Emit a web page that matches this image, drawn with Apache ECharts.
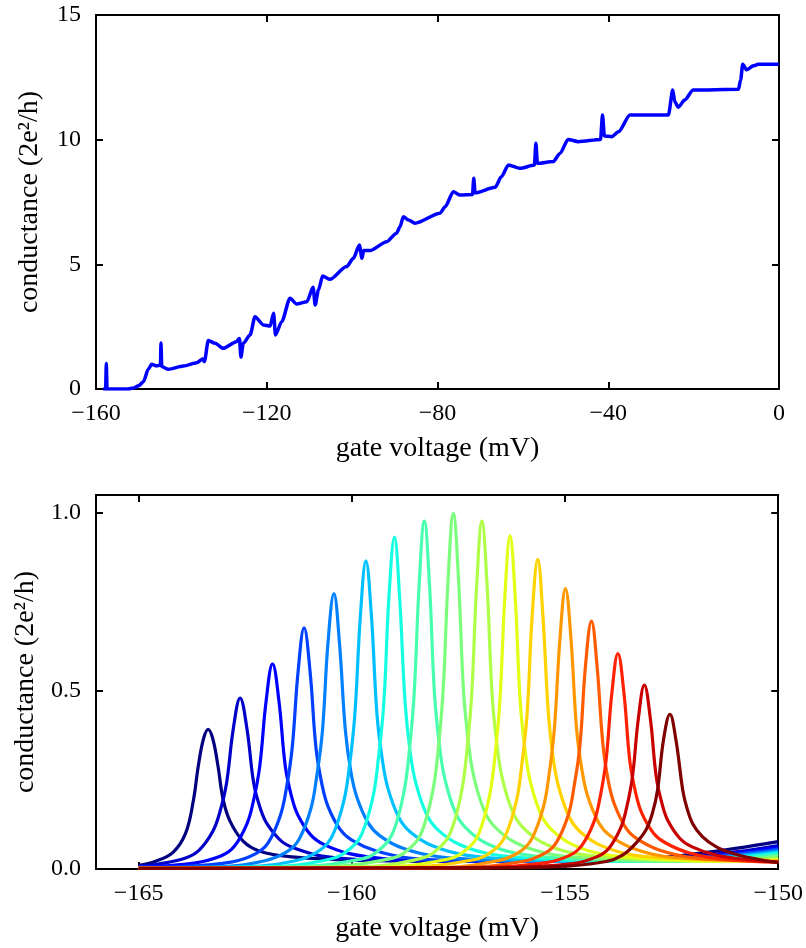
<!DOCTYPE html>
<html>
<head>
<meta charset="utf-8">
<script src="https://cdn.jsdelivr.net/npm/echarts@6/dist/echarts.min.js"></script>
<style>
html,body{margin:0;padding:0;background:#fff;}
#chart{width:806px;height:948px;}
</style>
</head>
<body>
<div id="chart"></div>
<script>
// ---------- data: top panel ----------
const topXTicks = [-160, -120, -80, -40, 0];
const topYTicks = [0, 5, 10, 15];
const topCurve = [
[-158.3,0],[-157.75,0],[-157.58,1.02],[-157.42,0],[-152.5,0],[-151.2,0.04],[-150.0,0.13],[-148.9,0.29],
[-147.75,0.79],[-146.96,0.99],[-145.8,0.93],[-144.9,0.96],[-144.78,1.84],[-144.6,0.9],[-143.06,0.79],
[-139.5,0.92],[-136.4,1.05],[-135.0,1.2],[-134.6,1.1],[-133.7,1.95],[-132.1,1.83],[-130.2,1.63],
[-127.1,1.9],[-126.4,2.03],[-126.05,1.28],[-125.5,1.83],[-123.9,2.17],[-122.75,2.9],[-120.8,2.57],
[-119.2,2.53],[-118.4,3.04],[-117.95,2.17],[-116.5,2.7],[-114.55,3.64],[-113.0,3.41],[-110.6,3.5],
[-109.15,4.08],[-108.65,3.37],[-107.9,3.97],[-106.9,4.53],[-105.2,4.40],[-101.3,4.91],[-99.7,5.24],
[-98.3,5.78],[-97.7,5.24],[-97.3,5.55],[-95.8,5.55],[-91.9,5.91],[-89.6,6.25],[-88.8,6.5],[-88.0,6.91],
[-86.8,6.78],[-85.3,6.65],[-79.4,7.05],[-78.2,7.31],[-76.3,7.91],[-74.7,7.78],[-71.8,7.8],[-71.5,8.45],
[-71.2,7.87],[-66.5,8.09],[-65.0,8.52],[-63.4,8.98],[-60.7,8.85],[-57.3,8.98],[-56.95,9.86],[-56.6,9.05],
[-52.9,9.12],[-51.3,9.45],[-49.4,10.01],[-47.0,9.92],[-41.8,10.01],[-41.35,10.99],[-40.9,10.15],
[-39.2,10.12],[-37.6,10.32],[-34.9,10.99],[-25.9,10.99],[-24.9,11.99],[-24.4,11.52],[-23.6,11.30],
[-22.1,11.59],[-20.1,11.99],[-9.5,12.02],[-9.0,12.39],[-8.5,13.02],[-7.6,12.80],[-6.0,12.96],
[-4.9,13.02],[0,13.02]
];

// ---------- data: bottom panel ----------
const botXTicks = [-165, -160, -155, -150];
const botYTicks = [0, 0.5, 1.0];
const peak01 = [[-165,0.010],[-164.6,0.022],[-164.2,0.046],[-163.9,0.1],[-163.72,0.19],[-163.6,0.29],[-163.48,0.365],[-163.37,0.392],[-163.26,0.365],[-163.14,0.29],[-163.02,0.196],[-162.86,0.135],[-162.55,0.078],[-162.16,0.05],[-161.4,0.034],[-160,0.025],[-158,0.022],[-156,0.023],[-154,0.026],[-153,0.030],[-152,0.042],[-151,0.058],[-150,0.077]];
const peak02 = [[-165,0.008],[-164.54,0.014],[-163.9,0.031],[-163.58,0.053],[-163.26,0.106],[-163.1,0.158],[-162.94,0.24],[-162.78,0.394],[-162.62,0.48],[-162.46,0.394],[-162.3,0.24],[-162.14,0.168],[-161.98,0.125],[-161.66,0.079],[-161.34,0.058],[-160.7,0.036],[-159.74,0.026],[-158,0.022],[-156,0.022],[-154,0.025],[-153,0.028],[-152,0.036],[-151,0.048],[-150,0.066]];
const peak03 = [[-165,0.006],[-164.5,0.008],[-163.66,0.017],[-163.06,0.037],[-162.76,0.063],[-162.46,0.127],[-162.31,0.19],[-162.16,0.288],[-162.01,0.472],[-161.86,0.576],[-161.71,0.472],[-161.56,0.288],[-161.41,0.202],[-161.26,0.15],[-160.96,0.095],[-160.66,0.069],[-160.06,0.043],[-159.16,0.028],[-158,0.023],[-156,0.021],[-154,0.023],[-153,0.026],[-152,0.033],[-151,0.044],[-150,0.06]];
const peak04 = [[-165,0.005],[-164,0.007],[-162.8,0.02],[-162.24,0.044],[-161.96,0.074],[-161.68,0.149],[-161.54,0.223],[-161.4,0.339],[-161.26,0.555],[-161.12,0.677],[-160.98,0.555],[-160.84,0.339],[-160.7,0.237],[-160.56,0.176],[-160.28,0.112],[-160.0,0.081],[-159.44,0.051],[-158.6,0.03],[-157,0.023],[-155,0.021],[-154,0.022],[-153,0.025],[-152,0.031],[-151,0.041],[-150,0.056]];
const peak05 = [[-165,0.004],[-163,0.007],[-162.04,0.023],[-161.5,0.05],[-161.23,0.085],[-160.96,0.17],[-160.83,0.255],[-160.69,0.387],[-160.56,0.634],[-160.42,0.773],[-160.29,0.634],[-160.15,0.387],[-160.02,0.271],[-159.88,0.201],[-159.61,0.128],[-159.34,0.093],[-158.8,0.058],[-157.99,0.035],[-156.5,0.024],[-155,0.021],[-154,0.021],[-153,0.023],[-152,0.029],[-151,0.038],[-150,0.052]];
const peak06 = [[-165,0.004],[-162.5,0.007],[-161.23,0.026],[-160.71,0.056],[-160.45,0.095],[-160.19,0.19],[-160.06,0.285],[-159.93,0.433],[-159.8,0.709],[-159.67,0.865],[-159.54,0.709],[-159.41,0.433],[-159.28,0.303],[-159.15,0.225],[-158.89,0.143],[-158.63,0.104],[-158.11,0.065],[-157.33,0.039],[-156,0.026],[-154.5,0.021],[-153,0.022],[-152,0.027],[-151,0.035],[-150,0.048]];
const peak07 = [[-165,0.003],[-162,0.006],[-160.5,0.028],[-160.0,0.061],[-159.75,0.103],[-159.5,0.205],[-159.38,0.308],[-159.25,0.466],[-159.13,0.764],[-159,0.932],[-158.88,0.764],[-158.75,0.466],[-158.63,0.326],[-158.5,0.242],[-158.25,0.154],[-158.0,0.112],[-157.5,0.07],[-156.75,0.042],[-155.5,0.028],[-154,0.022],[-153,0.022],[-152,0.025],[-151,0.032],[-150,0.044]];
const peak08 = [[-165,0.003],[-161.5,0.006],[-159.74,0.029],[-159.26,0.064],[-159.02,0.107],[-158.78,0.215],[-158.66,0.322],[-158.54,0.489],[-158.42,0.801],[-158.3,0.977],[-158.18,0.801],[-158.06,0.489],[-157.94,0.342],[-157.82,0.254],[-157.58,0.161],[-157.34,0.117],[-156.86,0.073],[-156.14,0.044],[-155,0.03],[-153.5,0.022],[-152,0.023],[-151,0.029],[-150,0.04]];
const peak09 = [[-165,0.003],[-161,0.005],[-159.06,0.03],[-158.58,0.065],[-158.34,0.11],[-158.1,0.22],[-157.98,0.329],[-157.86,0.499],[-157.74,0.818],[-157.62,0.998],[-157.5,0.818],[-157.38,0.499],[-157.26,0.349],[-157.14,0.259],[-156.9,0.165],[-156.66,0.12],[-156.18,0.075],[-155.46,0.045],[-154.5,0.031],[-153,0.023],[-152,0.022],[-151,0.026],[-150,0.035]];
const peak10 = [[-165,0.002],[-160,0.005],[-158.39,0.029],[-157.91,0.064],[-157.67,0.107],[-157.43,0.215],[-157.31,0.322],[-157.19,0.489],[-157.07,0.801],[-156.95,0.977],[-156.83,0.801],[-156.71,0.489],[-156.59,0.342],[-156.47,0.254],[-156.23,0.161],[-155.99,0.117],[-155.51,0.073],[-154.79,0.044],[-153.5,0.03],[-152,0.023],[-151,0.022],[-150,0.03]];
const peak11 = [[-165,0.002],[-159.5,0.005],[-157.73,0.028],[-157.25,0.061],[-157.01,0.103],[-156.77,0.206],[-156.65,0.309],[-156.53,0.468],[-156.41,0.767],[-156.29,0.935],[-156.17,0.767],[-156.05,0.468],[-155.93,0.327],[-155.81,0.243],[-155.57,0.154],[-155.33,0.112],[-154.85,0.07],[-154.13,0.042],[-153,0.029],[-151.5,0.022],[-150,0.026]];
const peak12 = [[-165,0.002],[-159,0.004],[-157.14,0.026],[-156.64,0.056],[-156.39,0.096],[-156.14,0.191],[-156.02,0.287],[-155.89,0.435],[-155.77,0.713],[-155.64,0.869],[-155.52,0.713],[-155.39,0.435],[-155.27,0.304],[-155.14,0.226],[-154.89,0.143],[-154.64,0.104],[-154.14,0.065],[-153.39,0.039],[-152.3,0.029],[-151,0.023],[-150,0.023]];
const peak13 = [[-165,0.002],[-158,0.004],[-156.55,0.024],[-156.03,0.051],[-155.77,0.087],[-155.51,0.173],[-155.38,0.26],[-155.25,0.394],[-155.12,0.645],[-154.99,0.787],[-154.86,0.645],[-154.73,0.394],[-154.6,0.275],[-154.47,0.205],[-154.21,0.13],[-153.95,0.094],[-153.43,0.059],[-152.65,0.035],[-151.5,0.026],[-150,0.021]];
const peak14 = [[-165,0.002],[-157.5,0.004],[-156.0,0.021],[-155.46,0.045],[-155.19,0.077],[-154.92,0.153],[-154.79,0.23],[-154.65,0.348],[-154.52,0.571],[-154.38,0.696],[-154.25,0.571],[-154.11,0.348],[-153.98,0.244],[-153.84,0.181],[-153.57,0.115],[-153.3,0.084],[-152.76,0.052],[-151.95,0.031],[-150.8,0.024],[-150,0.02]];
const peak15 = [[-165,0.002],[-157,0.004],[-155.44,0.018],[-154.88,0.039],[-154.6,0.067],[-154.32,0.133],[-154.18,0.2],[-154.04,0.303],[-153.9,0.496],[-153.76,0.605],[-153.62,0.496],[-153.48,0.303],[-153.34,0.212],[-153.2,0.157],[-152.92,0.1],[-152.64,0.073],[-152.08,0.045],[-151.24,0.027],[-150,0.019]];
const peak16 = [[-165,0.002],[-156.5,0.004],[-154.82,0.015],[-154.26,0.034],[-153.98,0.057],[-153.7,0.114],[-153.56,0.17],[-153.42,0.258],[-153.28,0.423],[-153.14,0.516],[-153.0,0.423],[-152.86,0.258],[-152.72,0.181],[-152.58,0.134],[-152.3,0.085],[-152.02,0.062],[-151.46,0.039],[-150.62,0.025],[-150,0.02]];
const peak17 = [[-165,0.002],[-156,0.004],[-155,0.008],[-154.04,0.021],[-153.65,0.039],[-153.34,0.072],[-153.1,0.11],[-152.95,0.157],[-152.83,0.222],[-152.69,0.363],[-152.54,0.434],[-152.4,0.363],[-152.24,0.222],[-152.15,0.175],[-152.01,0.128],[-151.78,0.091],[-151.46,0.063],[-151.08,0.044],[-150.68,0.032],[-150.29,0.023],[-150,0.018]];

const peaks = [peak01,peak02,peak03,peak04,peak05,peak06,peak07,peak08,peak09,peak10,peak11,peak12,peak13,peak14,peak15,peak16,peak17];

// ---------- styles ----------
const peakColors = ['#000080','#0000c8','#0000ff','#0040ff','#0080ff','#00c0ff','#14ffe2','#48ffaf','#7bff7b','#afff48','#e2ff14','#ffd200','#ff9700','#ff5c00','#ff2100','#c80000','#800000'];
const FONT = 'Liberation Serif';
const minus = v => String(v).replace('-', '\u2212');

const chart = echarts.init(document.getElementById('chart'), null, {renderer: 'canvas'});

const lineAx = {show: true, onZero: false, lineStyle: {color: '#000', width: 2}};
const tickIn = {show: true, inside: true, length: 7, lineStyle: {color: '#000', width: 2}};
const xLabelSty = {color: '#000', fontFamily: FONT, fontSize: 24, margin: 13};
const yLabelSty = {color: '#000', fontFamily: FONT, fontSize: 24, margin: 15};
const nameSty = {color: '#000', fontFamily: FONT, fontSize: 28};

const grids = [
  {left: 96, right: 27, top: 15, height: 374},
  {left: 96, right: 27, top: 495, height: 374}
];

const xAxis = [
  {gridIndex: 0, type: 'value', min: -160, max: 0, interval: 40, position: 'bottom',
   axisLine: lineAx, axisTick: tickIn, splitLine: {show: false},
   axisLabel: Object.assign({}, xLabelSty, {customValues: topXTicks, formatter: v => minus(v)}),
   name: 'gate voltage (mV)', nameLocation: 'middle', nameGap: 46, nameTextStyle: nameSty},
  {gridIndex: 0, type: 'value', min: -160, max: 0, interval: 40, position: 'top',
   axisLine: lineAx, axisTick: tickIn, splitLine: {show: false}, axisLabel: {show: false}},
  {gridIndex: 1, type: 'value', min: -166, max: -150, position: 'bottom',
   axisLine: lineAx, axisTick: Object.assign({}, tickIn, {customValues: botXTicks}), splitLine: {show: false},
   axisLabel: Object.assign({}, xLabelSty, {customValues: botXTicks, formatter: v => minus(v)}),
   name: 'gate voltage (mV)', nameLocation: 'middle', nameGap: 46, nameTextStyle: nameSty},
  {gridIndex: 1, type: 'value', min: -166, max: -150, position: 'top',
   axisLine: lineAx, axisTick: Object.assign({}, tickIn, {customValues: botXTicks}), splitLine: {show: false}, axisLabel: {show: false}}
];

const yAxis = [
  {gridIndex: 0, type: 'value', min: 0, max: 15, interval: 5, position: 'left',
   axisLine: lineAx, axisTick: tickIn, splitLine: {show: false},
   axisLabel: Object.assign({}, yLabelSty, {customValues: topYTicks}),
   name: 'conductance (2e\u00B2/h)', nameLocation: 'middle', nameGap: 52, nameTextStyle: nameSty},
  {gridIndex: 0, type: 'value', min: 0, max: 15, interval: 5, position: 'right',
   axisLine: lineAx, axisTick: tickIn, splitLine: {show: false}, axisLabel: {show: false}},
  {gridIndex: 1, type: 'value', min: 0, max: 1.05, position: 'left',
   axisLine: lineAx, axisTick: Object.assign({}, tickIn, {customValues: botYTicks}), splitLine: {show: false},
   axisLabel: Object.assign({}, yLabelSty, {customValues: botYTicks, formatter: v => v.toFixed(1)}),
   name: 'conductance (2e\u00B2/h)', nameLocation: 'middle', nameGap: 52, nameTextStyle: nameSty},
  {gridIndex: 1, type: 'value', min: 0, max: 1.05, position: 'right',
   axisLine: lineAx, axisTick: Object.assign({}, tickIn, {customValues: botYTicks}), splitLine: {show: false}, axisLabel: {show: false}}
];

const series = [{
  type: 'line', xAxisIndex: 0, yAxisIndex: 0, data: topCurve,
  showSymbol: false, smooth: 0.25, smoothMonotone: 'x',
  lineStyle: {color: '#0000ff', width: 3.5}, z: 3
}];
peaks.forEach((p, i) => {
  series.push({
    type: 'line', xAxisIndex: 2, yAxisIndex: 2, data: p,
    showSymbol: false, smooth: 0.4,
    lineStyle: {color: peakColors[i], width: 3.2}, z: 3
  });
});

chart.setOption({
  backgroundColor: '#fff',
  animation: false,
  grid: grids,
  xAxis: xAxis,
  yAxis: yAxis,
  series: series
});
</script>
</body>
</html>
